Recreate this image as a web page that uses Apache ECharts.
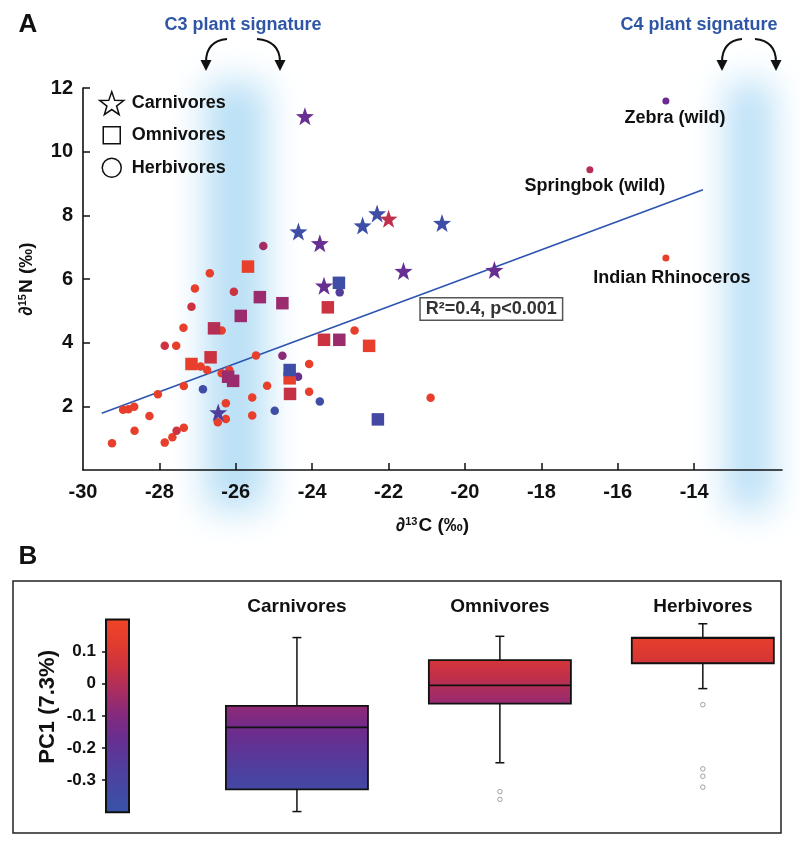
<!DOCTYPE html>
<html><head><meta charset="utf-8">
<script src="https://cdn.jsdelivr.net/npm/echarts@6/dist/echarts.min.js"></script>
<style>html,body{margin:0;padding:0;background:#fff}#c{width:800px;height:845px}</style>
</head><body><div id="c"></div>
<script>
// ---------- Panel A data: [d13C, d15N, PC1 estimate (drives colour)] ----------
const herbivores = [
  [-29.24,0.84,0.15],[-28.65,1.23,0.15],[-28.26,1.70,0.15],[-27.86,0.86,0.15],[-27.66,1.03,0.15],
  [-27.55,1.23,0.05],[-27.36,1.33,0.15],[-28.95,1.89,0.15],[-28.81,1.91,0.15],[-28.66,1.99,0.15],
  [-28.04,2.38,0.15],[-27.36,2.64,0.15],[-26.86,2.54,-0.36],[-26.26,2.10,0.15],[-26.47,1.50,0.15],
  [-26.26,1.60,0.15],[-26.92,3.25,0.15],[-26.75,3.14,0.15],[-26.37,3.04,0.15],[-26.17,3.14,0.15],
  [-25.47,3.60,0.15],[-24.78,3.59,-0.08],[-24.37,2.93,-0.17],[-24.08,3.33,0.15],[-25.18,2.65,0.15],
  [-25.57,2.28,0.15],[-24.08,2.46,0.15],[-23.80,2.15,-0.36],[-24.98,1.86,-0.36],[-25.57,1.71,0.15],
  [-23.28,5.58,-0.25],[-22.89,4.38,0.15],[-25.28,7.04,-0.03],[-26.05,5.60,0.05],[-27.16,5.13,0.05],
  [-26.68,6.18,0.15],[-27.07,5.70,0.15],[-27.37,4.47,0.15],[-26.37,4.38,0.15],[-27.86,3.90,0.05],
  [-27.56,3.90,0.15],[-20.90,2.27,0.15]
];
const labelNames = ['Zebra (wild)','Springbok (wild)','Indian Rhinoceros'];
const labelledHerbivores = [[-14.74,11.59,-0.15],[-16.73,9.43,0.0],[-14.74,6.66,0.15]];
const omnivores = [
  [-25.68,6.39,0.15],[-25.37,5.43,-0.05],[-24.78,5.24,-0.05],[-25.87,4.84,-0.05],[-26.57,4.45,0.0],
  [-27.16,3.33,0.15],[-26.66,3.54,0.05],[-26.20,2.93,-0.05],[-26.07,2.80,-0.05],[-24.59,2.88,0.15],
  [-24.59,3.14,-0.36],[-24.58,2.39,0.03],[-23.30,5.88,-0.36],[-23.59,5.11,0.05],[-23.69,4.09,0.05],
  [-23.29,4.09,-0.05],[-22.51,3.90,0.15],[-22.28,1.59,-0.32]
];
const carnivores = [
  [-24.19,11.11,-0.17],[-24.36,7.49,-0.36],[-23.80,7.12,-0.17],[-22.68,7.68,-0.36],[-22.30,8.06,-0.36],
  [-22.00,7.89,0.02],[-20.60,7.76,-0.36],[-21.61,6.25,-0.17],[-19.23,6.28,-0.17],[-23.69,5.79,-0.17],
  [-26.46,1.81,-0.26]
];
const regressionLine = [[-29.51,1.78],[-13.77,8.80]];
const statsText = 'R\u00b2=0.4, p<0.001';
const statsAt = [-19.31,5.06];
const c3Band = [-26.8,-25.2];
const c4Band = [-13.15,-11.95];
const xTickLabels = [-30,-28,-26,-24,-22,-20,-18,-16,-14];
const xTickMarks = [-28,-26,-24,-22,-20,-18,-16,-14];
const yTicks = [2,4,6,8,10,12];

// ---------- Panel B data ----------
const boxCategories = ['Carnivores','Omnivores','Herbivores'];
// [min whisker, Q1, median, Q3, max whisker]
const boxStats = [
  [-0.398,-0.329,-0.136,-0.069,0.144],
  [-0.246,-0.062,-0.005,0.074,0.148],
  [-0.015,0.064,0.142,0.144,0.187]
];
const outliers = [[2,-0.336],[2,-0.360],[3,-0.065],[3,-0.265],[3,-0.288],[3,-0.322]];
const pcTicks = [-0.3,-0.2,-0.1,0,0.1];
const colorbarRange = [-0.4,0.2];

// ---------- styling helpers ----------
const F = '"Liberation Sans", Arial, Helvetica, sans-serif';
const INK = '#111';
const cmap = [[0.2,[239,69,39]],[0.1,[222,57,48]],[0.02,[192,48,74]],[-0.06,[149,42,114]],
              [-0.15,[108,43,142]],[-0.28,[75,66,160]],[-0.4,[56,83,168]]];
function colorOf(v){
  if (v >= cmap[0][0]) return 'rgb('+cmap[0][1].join(',')+')';
  for (let i=0;i<cmap.length-1;i++){
    const a=cmap[i], b=cmap[i+1];
    if (v<=a[0] && v>=b[0]){
      const t=(a[0]-v)/(a[0]-b[0]);
      const c=a[1].map((ca,k)=>Math.round(ca+(b[1][k]-ca)*t));
      return 'rgb('+c.join(',')+')';
    }
  }
  return 'rgb('+cmap[cmap.length-1][1].join(',')+')';
}
function gradientBetween(top,bottom){
  const stops=[];
  for(let i=0;i<=8;i++){const t=i/8; stops.push({offset:t,color:colorOf(top+(bottom-top)*t)});}
  return new echarts.graphic.LinearGradient(0,0,0,1,stops);
}
const starPath = 'path://M50,2L61.8,36.2L97.6,36.9L69.1,58.7L79.4,93L50,72.5L20.6,93L30.9,58.7L2.4,36.9L38.2,36.2Z';
const legendSquare = 'path://M0,0M3.5,3.5L20.5,3.5L20.5,20.5L3.5,20.5ZM24,24';
const legendCircle = 'path://M0,0M24,24M21.5,12A9.5,9.5,0,1,1,2.5,12A9.5,9.5,0,1,1,21.5,12Z';
const labelLayout = [{distance:4,offset:[9,0]},{distance:4,offset:[5,0]},{distance:8,offset:[6,0]}];
const pointColor = p => colorOf(p.value[2]);

const chart = echarts.init(document.getElementById('c'), null, {renderer:'canvas', width:800, height:845});

function renderBand(params, api){
  const cs = params.coordSys;
  const x0 = api.coord([api.value(0),0])[0], x1 = api.coord([api.value(1),0])[0];
  const off = 2000;
  return {type:'rect', silent:true,
    shape:{x:x0-off, y:cs.y-6, width:x1-x0, height:cs.height+46},
    style:{fill:'rgb(184,223,246)', shadowBlur:36, shadowColor:'rgba(184,223,246,1)', shadowOffsetX:off}};
}
function renderColorbar(params, api){
  const p1 = api.coord([0, api.value(1)]), p2 = api.coord([1, api.value(0)]);
  return {type:'rect', shape:{x:p1[0],y:p1[1],width:p2[0]-p1[0],height:p2[1]-p1[1]},
    style:{fill:gradientBetween(api.value(1),api.value(0)), stroke:INK, lineWidth:2}};
}
function renderBox(params, api){
  const x=api.value(0), lo=api.value(1), q1=api.value(2), med=api.value(3), q3=api.value(4), hi=api.value(5);
  const w = api.size([0.7,0])[0], cap=9;
  const pHi=api.coord([x,hi]), pQ3=api.coord([x,q3]), pMed=api.coord([x,med]), pQ1=api.coord([x,q1]), pLo=api.coord([x,lo]);
  const cx=pHi[0];
  const ls={stroke:INK, lineWidth:1.5};
  return {type:'group', children:[
    {type:'line', shape:{x1:cx,y1:pHi[1],x2:cx,y2:pQ3[1]}, style:ls},
    {type:'line', shape:{x1:cx-cap/2,y1:pHi[1],x2:cx+cap/2,y2:pHi[1]}, style:ls},
    {type:'line', shape:{x1:cx,y1:pQ1[1],x2:cx,y2:pLo[1]}, style:ls},
    {type:'line', shape:{x1:cx-cap/2,y1:pLo[1],x2:cx+cap/2,y2:pLo[1]}, style:ls},
    {type:'rect', shape:{x:cx-w/2,y:pQ3[1],width:w,height:pQ1[1]-pQ3[1]}, style:{fill:gradientBetween(q3,q1), stroke:INK, lineWidth:1.8}},
    {type:'line', shape:{x1:cx-w/2,y1:pMed[1],x2:cx+w/2,y2:pMed[1]}, style:{stroke:INK, lineWidth:1.8}}
  ]};
}
function arrow(x1,y1,cx,cy,x2,y2){
  return [
    {type:'bezierCurve', shape:{x1:x1,y1:y1,cpx1:cx,cpy1:cy,x2:x2,y2:y2}, style:{stroke:INK, lineWidth:2, fill:null}},
    {type:'polygon', shape:{points:[[x2-5.5,y2-2],[x2+5.5,y2-2],[x2,y2+9]]}, style:{fill:INK}}
  ];
}

const axisLabelStyle = {fontSize:20, fontWeight:'bold', color:INK, fontFamily:F};
const nameRich = {s:{fontSize:11, fontWeight:'bold', color:INK, verticalAlign:'top', fontFamily:F, padding:[0,1,0,0]}};

const option = {
  animation:false,
  backgroundColor:'#fff',
  textStyle:{fontFamily:F},
  grid:[
    {left:83, top:88, width:699, height:382},
    {left:106, top:619.6, width:23, height:192.6},
    {left:94, top:619.6, width:690, height:192.6}
  ],
  xAxis:[
    {type:'value', gridIndex:0, min:-30, max:-11.7,
     axisLine:{lineStyle:{color:INK, width:1.6}},
     axisTick:{inside:true, length:7, lineStyle:{color:INK, width:1.5}, customValues:xTickMarks},
     axisLabel:Object.assign({margin:12, customValues:xTickLabels}, axisLabelStyle),
     splitLine:{show:false},
     name:'\u2202{s|13}C (\u2030)', nameLocation:'middle', nameGap:46,
     nameTextStyle:{fontSize:19, fontWeight:'bold', color:INK, fontFamily:F, rich:nameRich}},
    {type:'value', gridIndex:1, min:0, max:1, show:false},
    {type:'value', gridIndex:2, min:0, max:3.4, position:'top',
     axisLine:{show:false}, axisTick:{show:false}, splitLine:{show:false},
     axisLabel:{customValues:[1,2,3], margin:3, fontSize:19, fontWeight:'bold', color:INK,
       formatter:v=>boxCategories[Math.round(v)-1] || ''}}
  ],
  yAxis:[
    {type:'value', gridIndex:0, min:0, max:12,
     axisLine:{lineStyle:{color:INK, width:1.6}},
     axisTick:{inside:true, length:7, lineStyle:{color:INK, width:1.5}, customValues:yTicks},
     axisLabel:Object.assign({margin:10, customValues:yTicks}, axisLabelStyle),
     splitLine:{show:false},
     name:'\u2202{s|15}N (\u2030)', nameLocation:'middle', nameGap:47, nameRotate:90,
     nameTextStyle:{fontSize:19, fontWeight:'bold', color:INK, fontFamily:F, rich:nameRich}},
    {type:'value', gridIndex:1, min:colorbarRange[0], max:colorbarRange[1],
     axisLine:{show:false},
     axisTick:{show:true, inside:false, length:4, lineStyle:{color:INK, width:1.5}, customValues:pcTicks},
     axisLabel:{customValues:pcTicks, margin:10, fontSize:17, fontWeight:'bold', color:INK},
     splitLine:{show:false},
     name:'PC1 (7.3%)', nameLocation:'middle', nameGap:47, nameRotate:90,
     nameTextStyle:{fontSize:22, fontWeight:'bold', color:INK, padding:[0,0,0,18]}},
    {type:'value', gridIndex:2, min:colorbarRange[0], max:colorbarRange[1], show:false}
  ],
  legend:{
    orient:'vertical', left:94, top:86, itemWidth:24, itemHeight:24, itemGap:7,
    selectedMode:false,
    itemStyle:{color:'#fff', borderColor:INK, borderWidth:1.5},
    textStyle:{fontSize:18, fontWeight:'bold', color:INK, padding:[0,0,0,3]},
    data:[{name:'Carnivores', icon:starPath},{name:'Omnivores', icon:legendSquare},{name:'Herbivores', icon:legendCircle}]
  },
  graphic:[
    {type:'text', x:28, y:25, style:{text:'A', font:'bold 26px '+F, fill:INK, align:'center', verticalAlign:'middle'}},
    {type:'text', x:28, y:557, style:{text:'B', font:'bold 26px '+F, fill:INK, align:'center', verticalAlign:'middle'}},
    {type:'text', x:243, y:25, style:{text:'C3 plant signature', font:'bold 18px '+F, fill:'#2f56a6', align:'center', verticalAlign:'middle'}},
    {type:'text', x:699, y:25, style:{text:'C4 plant signature', font:'bold 18px '+F, fill:'#2f56a6', align:'center', verticalAlign:'middle'}},
    ...arrow(227,39,206,41,206,62),
    ...arrow(257,39,280,41,280,62),
    ...arrow(742,39,722,41,722,62),
    ...arrow(755,39,776,41,776,62),
    {type:'rect', shape:{x:13, y:581, width:768, height:252}, style:{fill:null, stroke:'#222', lineWidth:1.5}}
  ],
  series:[
    {type:'custom', name:'bands', xAxisIndex:0, yAxisIndex:0, z:-1, silent:true, clip:false,
     renderItem:renderBand, data:[c3Band, c4Band]},
    {type:'line', name:'fit', xAxisIndex:0, yAxisIndex:0, data:regressionLine, symbol:'none', silent:true,
     lineStyle:{color:'#2c54b0', width:1.6}, z:1,
     markPoint:{symbol:'rect', symbolSize:1, silent:true, itemStyle:{color:'rgba(0,0,0,0)'},
       label:{show:true, position:'inside', formatter:statsText, fontSize:18, fontWeight:'bold', color:'#333',
         backgroundColor:'#fff', borderColor:'#555', borderWidth:1.5, padding:[2,5,1,5]},
       data:[{coord:statsAt}]}},
    {type:'scatter', name:'Herbivores', xAxisIndex:0, yAxisIndex:0, symbol:'circle', symbolSize:8.5,
     itemStyle:{color:pointColor, opacity:1},
     data: herbivores.concat(labelledHerbivores.map((v,i)=>({value:v, name:labelNames[i], symbolSize:7,
       label:Object.assign({show:true, position:'bottom', formatter:'{b}', fontSize:18, fontWeight:'bold', color:INK}, labelLayout[i])})))},
    {type:'scatter', name:'Omnivores', xAxisIndex:0, yAxisIndex:0, symbol:'rect', symbolSize:12.5,
     itemStyle:{color:pointColor, opacity:1}, data:omnivores},
    {type:'scatter', name:'Carnivores', xAxisIndex:0, yAxisIndex:0, symbol:starPath, symbolSize:18,
     itemStyle:{color:pointColor, opacity:1}, data:carnivores},
    {type:'custom', name:'colorbar', xAxisIndex:1, yAxisIndex:1, silent:true, renderItem:renderColorbar,
     data:[colorbarRange]},
    {type:'custom', name:'boxes', xAxisIndex:2, yAxisIndex:2, silent:true, renderItem:renderBox,
     encode:{x:0, y:[1,2,3,4,5]},
     data: boxStats.map((s,i)=>[i+1].concat(s))},
    {type:'scatter', name:'outliers', xAxisIndex:2, yAxisIndex:2, symbol:'circle', symbolSize:4.5, silent:true,
     itemStyle:{color:'#fff', borderColor:'#8a8a8a', borderWidth:1}, data:outliers}
  ]
};
chart.setOption(option);
</script>
</body></html>
